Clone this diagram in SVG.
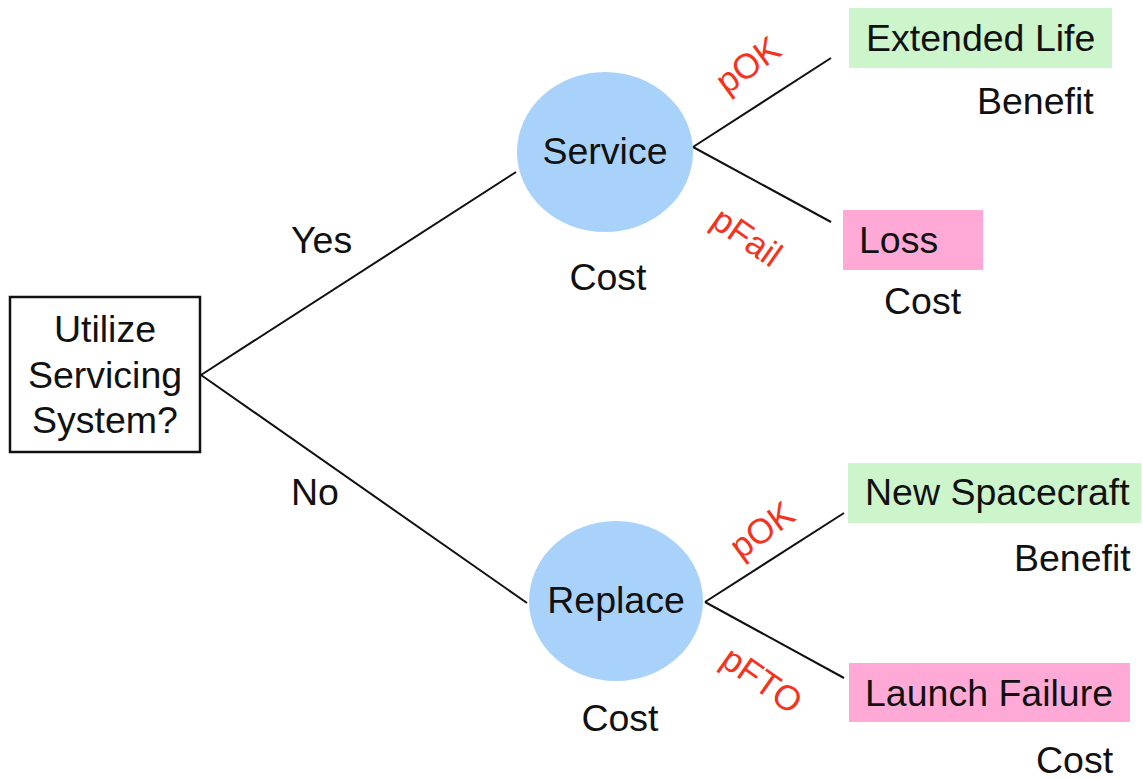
<svg xmlns="http://www.w3.org/2000/svg" width="1143" height="779" viewBox="0 0 1143 779">
<style>
text{font-family:"Liberation Sans",Arial,sans-serif;fill:#111}
.t{font-size:37.5px}
.p{font-size:35px;fill:#f5321e}
.c{fill:#a9d2fa}
.g{fill:#ccf5cc}
.k{fill:#ffaad6}
.e line{stroke:#111;stroke-width:2}
</style>
<rect width="1143" height="779" fill="#fff"/>
<g class="e" id="connectors">
<line x1="201" y1="375" x2="516" y2="172"/>
<line x1="201" y1="375" x2="527" y2="603"/>
<line x1="693" y1="147" x2="831" y2="58"/>
<line x1="693" y1="147" x2="831" y2="222"/>
<line x1="705" y1="602" x2="844" y2="513"/>
<line x1="705" y1="602" x2="844" y2="678"/>
<text class="t" x="291" y="253">Yes</text>
<text class="t" x="291" y="505">No</text>
<text class="p" transform="translate(748,65) rotate(-36)" text-anchor="middle" dy="12">pOK</text>
<text class="p" transform="translate(747,237) rotate(35)" text-anchor="middle" dy="12">pFail</text>
<text class="p" transform="translate(762,530) rotate(-36)" text-anchor="middle" dy="12">pOK</text>
<text class="p" transform="translate(762,680) rotate(35)" text-anchor="middle" dy="12">pFTO</text>
</g>
<g id="decision">
<rect x="10" y="297" width="190" height="155" fill="#fff" stroke="#111" stroke-width="2.5"/>
<text class="t" x="105" y="342" text-anchor="middle">Utilize</text>
<text class="t" x="105" y="388" text-anchor="middle">Servicing</text>
<text class="t" x="105" y="433" text-anchor="middle">System?</text>
</g>
<g id="service">
<ellipse class="c" cx="605" cy="152" rx="88" ry="80"/>
<text class="t" x="605" y="164" text-anchor="middle">Service</text>
<text class="t" x="608" y="290" text-anchor="middle">Cost</text>
</g>
<g id="replace">
<ellipse class="c" cx="616" cy="601" rx="87" ry="80"/>
<text class="t" x="616" y="613" text-anchor="middle">Replace</text>
<text class="t" x="620" y="731" text-anchor="middle">Cost</text>
</g>
<g id="extended">
<rect class="g" x="849" y="8" width="263" height="60"/>
<text class="t" x="866" y="51">Extended Life</text>
<text class="t" x="977" y="114">Benefit</text>
</g>
<g id="loss">
<rect class="k" x="843" y="210" width="140" height="60"/>
<text class="t" x="859" y="253">Loss</text>
<text class="t" x="884" y="314">Cost</text>
</g>
<g id="newsc">
<rect class="g" x="848" y="463" width="293" height="60"/>
<text class="t" x="865" y="505">New Spacecraft</text>
<text class="t" x="1014" y="571">Benefit</text>
</g>
<g id="launch">
<rect class="k" x="849" y="663" width="281" height="59"/>
<text class="t" x="865" y="706">Launch Failure</text>
<text class="t" x="1036" y="773">Cost</text>
</g>
</svg>
